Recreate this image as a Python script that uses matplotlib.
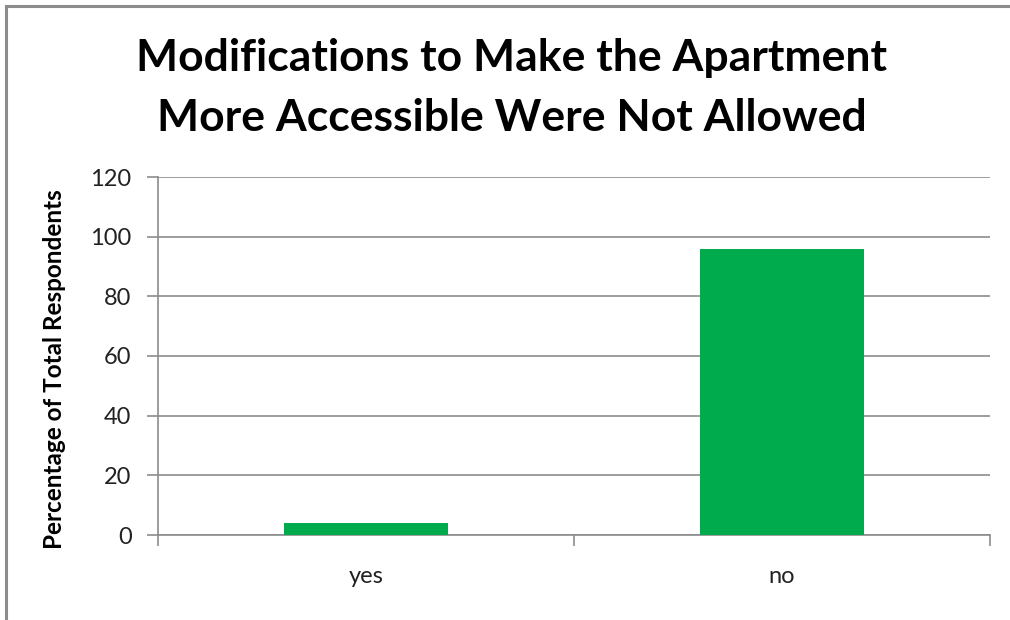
import matplotlib.pyplot as plt
from matplotlib.lines import Line2D

categories = ["yes", "no"]
percentages = [4, 96]
y_ticks = [0, 20, 40, 60, 80, 100, 120]

title = "Modifications to Make the Apartment\nMore Accessible Were Not Allowed"
y_label = "Percentage of Total Respondents"

plt.rcParams["font.family"] = ["Lato", "DejaVu Sans"]

W, H = 1010, 620
fig = plt.figure(figsize=(W / 100, H / 100), dpi=100)
ax = fig.add_axes([158 / W, 1 - 535 / H, (990 - 158) / W, (535 - 177) / H])

x = range(len(categories))
ax.bar(x, percentages, width=0.396, color="#00ab4e", zorder=3)

ax.set_xlim(-0.5, len(categories) - 0.5)
ax.set_ylim(0, 120)
ax.set_yticks(y_ticks)
ax.set_yticklabels([str(t) for t in y_ticks], fontsize=17, color="#222222")
ax.yaxis.grid(True, color="#8c8c8c", linewidth=1.2, zorder=0)

# category labels sit between the boundary ticks
ax.set_xticks([-0.5, 0.5, 1.5])
ax.set_xticklabels([])
ax.set_xticks(list(x), minor=True)
ax.set_xticklabels(categories, minor=True, fontsize=17, color="#222222")
ax.tick_params(axis="x", which="minor", length=0, pad=22)
ax.tick_params(axis="x", which="major", length=8, width=1.2, color="#8c8c8c", direction="out")
ax.tick_params(axis="y", length=8, width=1.2, color="#8c8c8c", direction="out", pad=11)

for side in ["top", "right"]:
    ax.spines[side].set_visible(False)
for side in ["left", "bottom"]:
    ax.spines[side].set_color("#8c8c8c")
    ax.spines[side].set_linewidth(1.2)

ax.set_ylabel(y_label, fontsize=17.5, fontweight="bold", va="center")
ax.yaxis.set_label_coords(55 / W, 1 - 369 / H, transform=fig.transFigure)

fig.text(512 / W, 1 - 88 / H, title, ha="center", va="center", fontsize=32,
         fontweight="bold", linespacing=1.6)

# outer frame of the chart area (top and left edges only)
fig.add_artist(Line2D([6 / W, 1], [1 - 6 / H, 1 - 6 / H], color="#8c8c8c", linewidth=2.2))
fig.add_artist(Line2D([6 / W, 6 / W], [0, 1 - 6 / H], color="#8c8c8c", linewidth=2.2))

fig.savefig("out.png", dpi=100)
plt.close(fig)
